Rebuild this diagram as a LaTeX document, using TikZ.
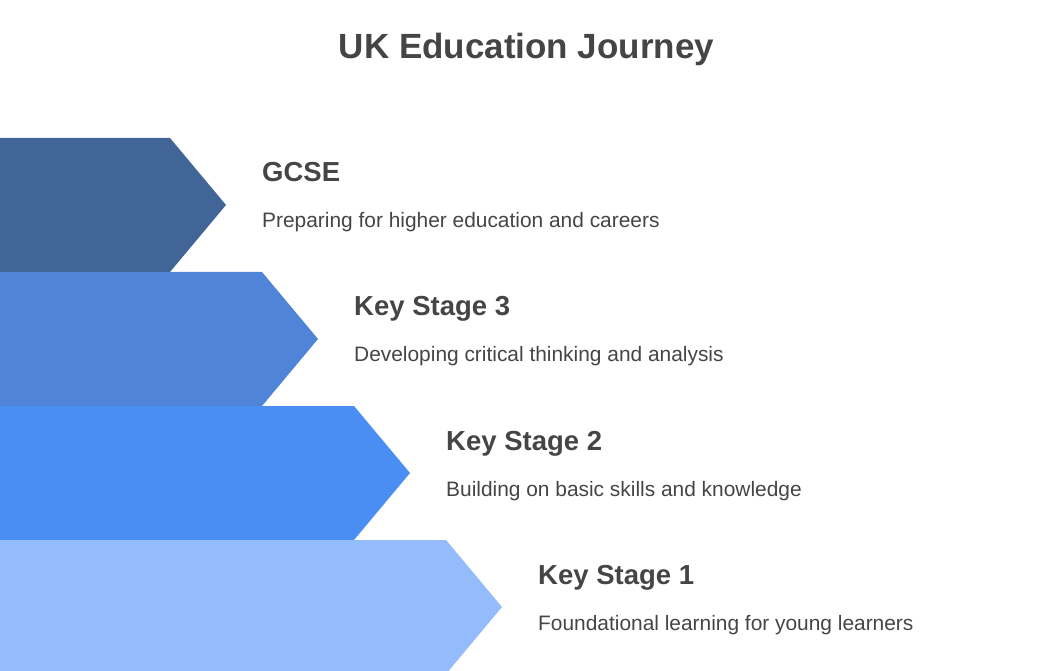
\documentclass[tikz,border=0pt]{standalone}
\usepackage{fontspec}
\setmainfont{Liberation Sans}
\definecolor{bandA}{HTML}{426598}
\definecolor{bandB}{HTML}{4F84D8}
\definecolor{bandC}{HTML}{4A8EF4}
\definecolor{bandD}{HTML}{94BCFC}
\definecolor{textgray}{HTML}{454545}
\tikzset{
  heading/.style={anchor=base west, inner sep=0pt, text=textgray, font=\bfseries\fontsize{27.5}{32}\selectfont},
  blurb/.style={anchor=base west, inner sep=0pt, text=textgray, font=\fontsize{20.9}{25}\selectfont}
}

\begin{document}
\begin{tikzpicture}[x=1pt,y=-1pt]
\useasboundingbox (0,0) rectangle (1037,671);
\clip (0,0) rectangle (1037,671);
\node[anchor=base, inner sep=0pt, text=textgray, font=\bfseries\fontsize{35}{40}\selectfont]
  (title) at (526.5,59) {UK Education Journey};
% bands, top to bottom
\foreach \i/\col/\head/\desc in {
  0/bandA/GCSE/Preparing for higher education and careers,
  1/bandB/Key Stage 3/Developing critical thinking and analysis,
  2/bandC/Key Stage 2/Building on basic skills and knowledge,
  3/bandD/Key Stage 1/Foundational learning for young learners}
{
  \fill[\col] (0,{138+134*\i}) -- ({170+92*\i},{138+134*\i}) --
    ({226+92*\i},{205+134*\i}) -- ({170+92*\i},{272+134*\i}) --
    (0,{272+134*\i}) -- cycle;
  \node[heading] (head\i) at ({262+92*\i},{182+134*\i}) {\head};
  \node[blurb] (desc\i) at ({262+92*\i},{228+134*\i}) {\desc};
}
\end{tikzpicture}
\end{document}
